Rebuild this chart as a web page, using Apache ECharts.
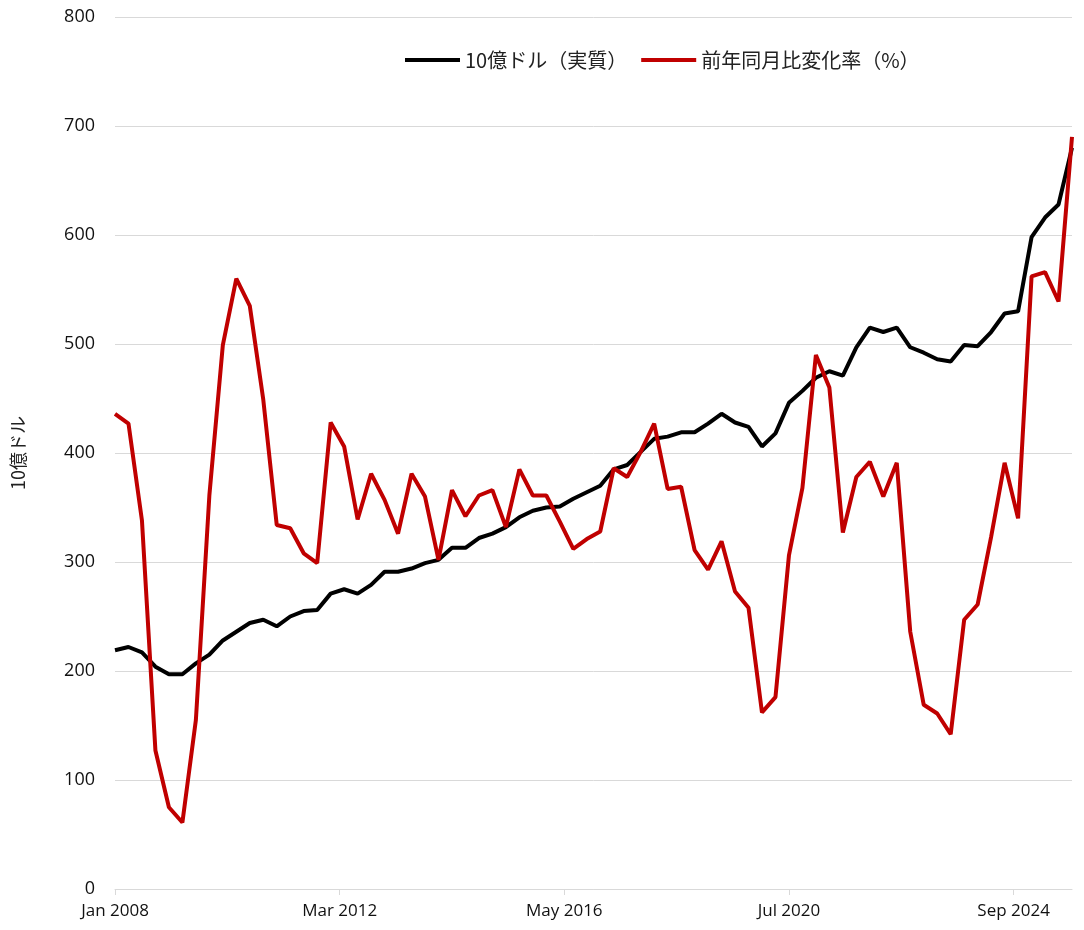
<!DOCTYPE html>
<html>
<head>
<meta charset="utf-8">
<script src="https://cdn.jsdelivr.net/npm/echarts@6/dist/echarts.min.js"></script>
<style>
  html, body { margin: 0; padding: 0; background: #fff; }
  #chart { width: 1084px; height: 930px; }
</style>
</head>
<body>
<div id="chart"></div>
<script>
// quarterly observations, Jan 2008 .. Oct 2025
const startYear = 2008;
const monthNames = ["Jan", "Feb", "Mar", "Apr", "May", "Jun", "Jul", "Aug", "Sep", "Oct", "Nov", "Dec"];

const realBillions = [
  219, 222, 217, 204, 197, 197, 207, 215, 228, 236, 244, 247,
  241, 250, 255, 256, 271, 275, 271, 279, 291, 291, 294, 299,
  302, 313, 313, 322, 326, 332, 341, 347, 350, 351, 358, 364,
  370, 385, 389, 401, 413, 415, 419, 419, 427, 436, 428, 424,
  406, 418, 446, 457, 469, 475, 471, 497, 515, 511, 515, 497,
  492, 486, 484, 499, 498, 511, 528, 530, 598, 616, 628, 680
];

const yoyChange = [
  436, 427, 338, 127, 75, 61, 155, 361, 499, 560, 535, 449,
  334, 331, 308, 299, 428, 406, 339, 381, 357, 326, 381, 360,
  302, 366, 342, 361, 366, 332, 385, 361, 361, 337, 312, 321,
  328, 386, 378, 401, 427, 367, 369, 311, 293, 319, 273, 258,
  162, 176, 306, 368, 490, 460, 327, 378, 392, 360, 391, 236,
  169, 161, 142, 247, 261, 323, 391, 340, 562, 566, 539, 690
];

const yTicks = [0, 100, 200, 300, 400, 500, 600, 700, 800];

// month offset from Jan 2008 for each quarter
const monthOffsets = realBillions.map((_, i) => i * 3);

function monthLabel(offset) {
  const y = startYear + Math.floor(offset / 12);
  return `${monthNames[offset % 12]} ${y}`;
}

const labelFont = "'Open Sans', 'Noto Sans', sans-serif";
const jpFont = "'Noto Sans CJK JP', sans-serif";

const chart = echarts.init(document.getElementById("chart"), undefined, { renderer: "canvas" });

chart.setOption({
  animation: false,
  backgroundColor: "#fff",
  grid: { left: 115, right: 12, top: 17, bottom: 41, containLabel: false },
  legend: {
    top: 45,
    left: 400,
    itemWidth: 55,
    itemHeight: 4,
    itemGap: 14,
    icon: "rect",
    textStyle: { fontFamily: jpFont, fontSize: 20, color: "#222" },
    data: ["10億ドル（実質）", "前年同月比変化率（%）"]
  },
  xAxis: {
    type: "value",
    min: 0,
    max: monthOffsets[monthOffsets.length - 1],
    interval: 50,
    axisLine: { show: true, lineStyle: { color: "#d9d9d9", width: 1 } },
    axisTick: { show: true, length: 6, lineStyle: { color: "#d9d9d9" } },
    splitLine: { show: false },
    axisLabel: {
      margin: 14,
      showMaxLabel: false,
      fontFamily: labelFont,
      fontSize: 17,
      color: "#111",
      formatter: (v) => monthLabel(v)
    }
  },
  yAxis: {
    type: "value",
    min: yTicks[0],
    max: yTicks[yTicks.length - 1],
    interval: 100,
    name: "10億ドル",
    nameLocation: "middle",
    nameRotate: 90,
    nameGap: 88,
    nameTextStyle: { fontFamily: jpFont, fontSize: 18, color: "#222" },
    axisLine: { show: false },
    axisTick: { show: false },
    splitLine: { lineStyle: { color: "#d9d9d9", width: 1 } },
    axisLabel: { margin: 20, fontFamily: labelFont, fontSize: 18, color: "#111" }
  },
  series: [
    {
      name: "10億ドル（実質）",
      type: "line",
      data: monthOffsets.map((m, i) => [m, realBillions[i]]),
      showSymbol: false,
      lineStyle: { color: "#000", width: 4 },
      itemStyle: { color: "#000" },
      z: 3
    },
    {
      name: "前年同月比変化率（%）",
      type: "line",
      data: monthOffsets.map((m, i) => [m, yoyChange[i]]),
      showSymbol: false,
      lineStyle: { color: "#c00000", width: 4 },
      itemStyle: { color: "#c00000" },
      z: 4
    }
  ]
});
</script>
</body>
</html>
